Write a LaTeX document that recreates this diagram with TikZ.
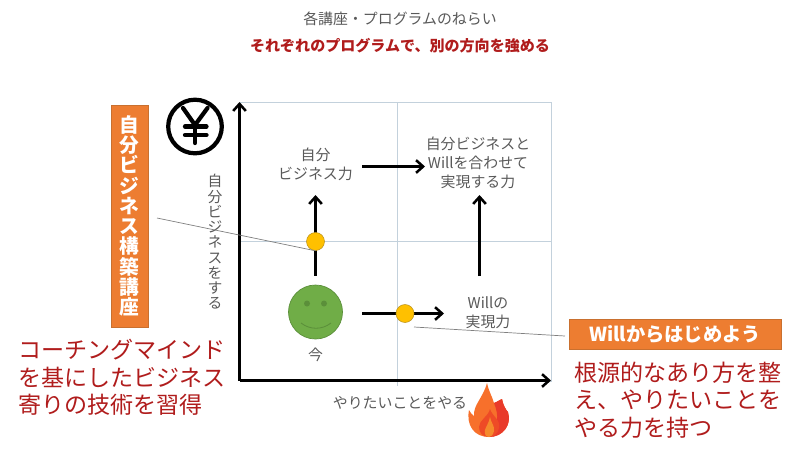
\documentclass[tikz,border=0pt]{standalone}
\usepackage{fontspec}
\setmainfont{Noto Sans CJK JP}
\usetikzlibrary{arrows.meta}
\definecolor{gridblue}{HTML}{C3D1DC}
\definecolor{labelgray}{HTML}{595959}
\definecolor{darkred}{HTML}{B01C1C}
\definecolor{boxorange}{HTML}{ED7D31}
\definecolor{boxedge}{HTML}{C9702F}
\definecolor{dotyellow}{HTML}{FFC000}
\definecolor{dotedge}{HTML}{BC9420}
\definecolor{facegreen}{HTML}{70AD47}
\definecolor{faceedge}{HTML}{5B8F3A}
\definecolor{flameouter}{HTML}{F7702B}
\definecolor{flameright}{HTML}{E93A2A}
\definecolor{flameinner}{HTML}{EE4B26}
\definecolor{flamecore}{HTML}{F58A2C}
\tikzset{
  axisline/.style={line width=2pt,-{Straight Barb[length=5pt,width=9pt,line width=1.8pt]}},
  leader/.style={gray,line width=0.5pt},
  label/.style={text=labelgray,align=center,inner sep=0pt,font=\fontsize{10.6pt}{13.6pt}\selectfont},
  redtext/.style={text=darkred,align=left,anchor=north west,inner sep=0pt,font=\fontsize{16.4pt}{19.6pt}\selectfont},
  yellowdot/.style={circle,fill=dotyellow,draw=dotedge,line width=0.4pt,inner sep=0pt,minimum size=0.45cm},
}
\begin{document}
\begin{tikzpicture}[x=0.025cm,y=-0.025cm]
  \useasboundingbox (0,0) rectangle (800,450);

  % Titulos
  \node[label] (title) at (400,19) {各講座・プログラムのねらい};
  \node[label,text=darkred,font=\bfseries\fontsize{10.7pt}{13pt}\selectfont] (subtitle) at (400,46) {それぞれのプログラムで、別の方向を強める};

  % Cuadricula
  \draw[gridblue,line width=0.7pt] (240,102) rectangle (551,381);
  \draw[gridblue,line width=0.7pt] (397,102) -- (397,386);
  \draw[gridblue,line width=0.7pt] (240,241) -- (551,241);

  % Ejes
  \coordinate (O) at (239.5,380.5);
  \coordinate (ytop) at (239.5,102);
  \coordinate (xend) at (551,380.5);
  \draw[axisline] (O) -- (ytop);
  \draw[axisline] (O) -- (xend);
  \node[label,font=\fontsize{10.5pt}{10.85pt}\selectfont] (ylabel) at (215,242) {自\\分\\ビ\\ジ\\ネ\\ス\\を\\す\\る};
  \node[label] (xlabel) at (400,403) {やりたいことをやる};

  % Yen
  \node[circle,draw=black,line width=3pt,inner sep=0pt,minimum size=1.34cm] (yen) at (195,126.5) {};
  \begin{scope}[line width=3pt,line cap=round,line join=round]
    \draw (183,108) -- (195,125) -- (207.5,108);
    \draw (195,125) -- (195,143);
    \draw (185,126.5) -- (206.5,126.5);
    \draw (185,135) -- (206.5,135);
  \end{scope}

  % Llama
  \fill[flameouter] (487,383) .. controls (489,392) and (492,396) .. (494,403)
    .. controls (497,402) and (501,399) .. (502,399)
    .. controls (503,405) and (506,410) .. (508,412)
    .. controls (512,425) and (503,437) .. (489,437)
    .. controls (474,437) and (466,425) .. (469,410)
    .. controls (471,413) and (472,415) .. (474,416)
    .. controls (473,405) and (483,398) .. (487,383) -- cycle;
  \fill[flameright] (494,403) .. controls (497,402) and (501,399) .. (502,399)
    .. controls (503,405) and (506,410) .. (508,412)
    .. controls (512,425) and (503,437) .. (489,437)
    .. controls (499,428) and (499,415) .. (494,403) -- cycle;
  \fill[flameinner] (490,409) .. controls (492,416) and (501,420) .. (499,428)
    .. controls (498,434) and (493,437) .. (489,437)
    .. controls (483,437) and (479,433) .. (479,427)
    .. controls (479,420) and (488,417) .. (490,409) -- cycle;
  \fill[flamecore] (490,417) .. controls (491,423) and (495,426) .. (494,431)
    .. controls (493,435) and (491,437) .. (489,437)
    .. controls (486,437) and (484,434) .. (485,430)
    .. controls (486,426) and (489,423) .. (490,417) -- cycle;

  % Etiquetas
  \node[label] (bizskill) at (315.5,164) {自分\\ビジネス力};
  \node[label] (bothskill) at (478,162.5) {自分ビジネスと\\Willを合わせて\\実現する力};
  \node[label] (willskill) at (488,313) {Willの\\実現力};
  \node[label] (now) at (315.5,355) {今};

  % Cara
  \node[circle,fill=facegreen,draw=faceedge,line width=0.5pt,inner sep=0pt,minimum size=1.35cm] (face) at (315.5,312) {};
  \fill[faceedge] (307,303.5) circle[radius=3] (324,303.5) circle[radius=3];
  \draw[faceedge,line width=0.6pt] (301,323) .. controls (310,330) and (322,330) .. (331,323);

  % Flechas
  \coordinate (bizup) at (315.5,195);
  \coordinate (bizout) at (362,166.5);
  \coordinate (bothin) at (425,166.5);
  \coordinate (willfrom) at (479.5,276);
  \coordinate (willtop) at (479.5,195);
  \coordinate (facestart) at (362,313.5);
  \coordinate (willin) at (444,313.5);
  \draw[axisline,shorten <=0.225cm] (face.north) -- (bizup);
  \draw[axisline] (bizout) -- (bothin);
  \draw[axisline] (willfrom) -- (willtop);
  \draw[axisline] (facestart) -- (willin);

  % Puntos
  \node[yellowdot] (dotbiz) at (315.5,241.5) {};
  \node[yellowdot] (dotwill) at (405,313.5) {};

  % Cajas
  \node[fill=boxorange,draw=boxedge,line width=0.5pt,minimum width=0.92cm,minimum height=5.55cm,inner sep=0pt,text=white,align=center,font=\bfseries\fontsize{14pt}{14.4pt}\selectfont] (bizbox) at (129.7,216) {自\\分\\ビ\\ジ\\ネ\\ス\\構\\築\\講\\座};
  \node[fill=boxorange,draw=boxedge,line width=0.5pt,minimum width=5.3cm,minimum height=0.75cm,inner sep=0pt,text=white,font=\bfseries\fontsize{13.7pt}{15pt}\selectfont] (willbox) at (675,334) {Willからはじめよう};

  % Lineas guia
  \coordinate (bizlead) at (157,218);
  \coordinate (willleadA) at (414,327);
  \coordinate (willleadB) at (565,336);
  \draw[leader] (bizlead) -- (dotbiz.south);
  \draw[leader] (willleadA) -- (willleadB);

  % Textos rojos
  \node[redtext] (bizdesc) at (18,339) {コーチングマインド\\を基にしたビジネス\\寄りの技術を習得};
  \node[redtext] (willdesc) at (574,361.5) {根源的なあり方を整\\え、やりたいことを\\やる力を持つ};
\end{tikzpicture}
\end{document}
